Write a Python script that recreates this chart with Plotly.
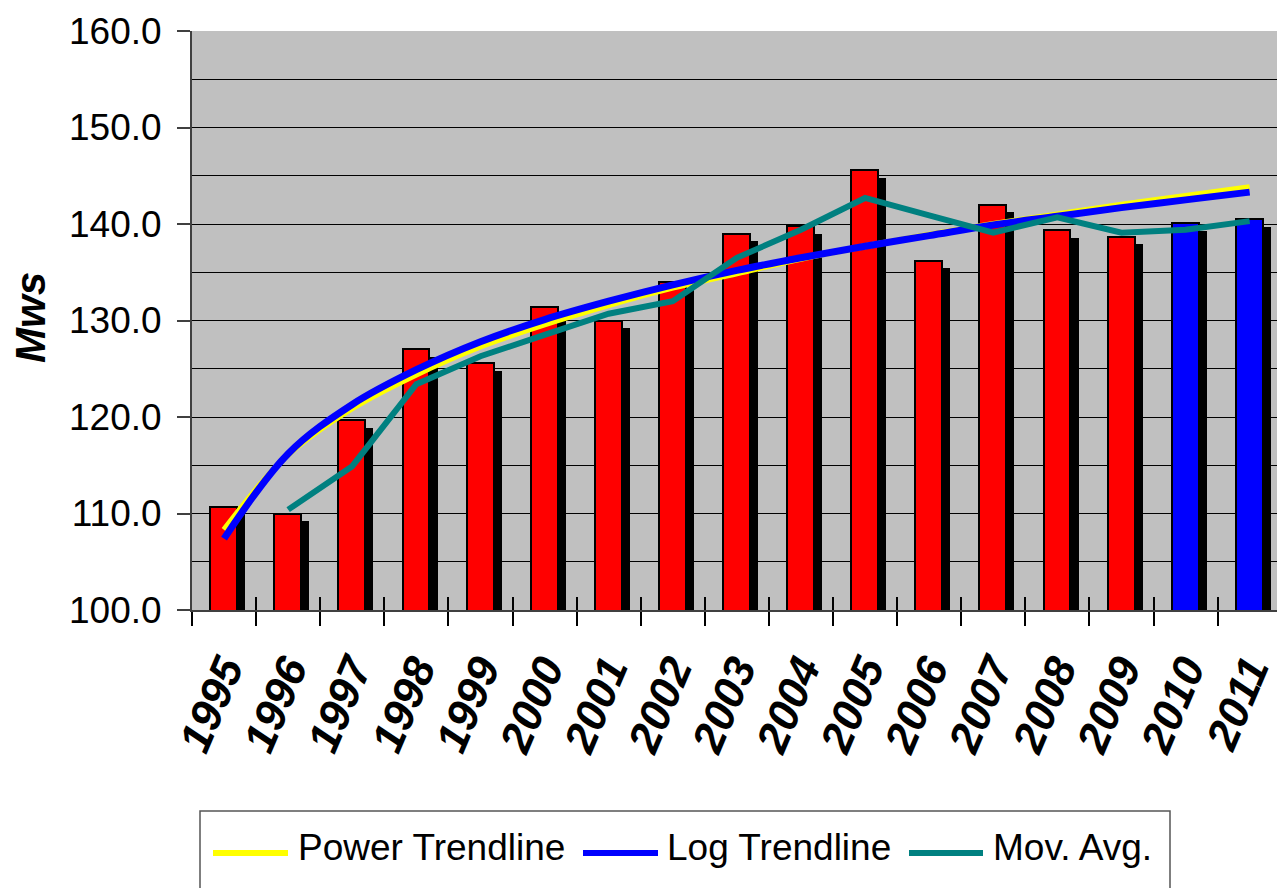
import plotly.graph_objects as go

# Annual peak demand (MW) with fitted trendlines
years = ["1995", "1996", "1997", "1998", "1999", "2000", "2001", "2002", "2003",
         "2004", "2005", "2006", "2007", "2008", "2009", "2010", "2011"]
mws = [110.7, 110.0, 119.7, 127.0, 125.6, 131.4, 130.0, 134.0, 139.0,
       139.8, 145.6, 136.2, 142.0, 139.4, 138.7, 140.1, 140.5]
forecast_years = ["2010", "2011"]

power_trend = [108.3, 116.1, 120.9, 124.4, 127.3, 129.6, 131.6, 133.4, 134.9,
               136.4, 137.7, 138.9, 140.0, 141.0, 142.0, 142.9, 143.8]
log_trend = [107.4, 116.2, 121.3, 124.9, 127.8, 130.1, 132.0, 133.7, 135.2,
             136.5, 137.7, 138.8, 139.9, 140.8, 141.7, 142.5, 143.3]
mov_avg = [None, 110.4, 114.9, 123.4, 126.3, 128.5, 130.7, 132.0, 136.5,
           139.4, 142.7, 140.9, 139.1, 140.7, 139.1, 139.4, 140.3]

legend_labels = ["Power Trendline", "Log Trendline", "Mov. Avg."]
y_ticks = [100, 110, 120, 130, 140, 150, 160]

RED, BLUE, YELLOW, TEAL, GREY = "#FF0000", "#0000FF", "#FFFF00", "#008080", "#C0C0C0"
SANS = "Liberation Sans, Arial, sans-serif"

W, H = 1277, 888
L, T, B = 192, 31, 278
PW = W - L
PH = H - T - B


def px_x(p):
    return (p - L) / PW


def px_y(p):
    return (H - B - p) / PH


bar_colors = [BLUE if y in forecast_years else RED for y in years]

fig = go.Figure()

# drop shadow behind each column
fig.add_trace(go.Bar(
    x=years, y=mws, base=-0.8, width=0.42, offset=-0.09,
    marker=dict(color="black", line=dict(width=0)),
    showlegend=False, hoverinfo="skip",
))
fig.add_trace(go.Bar(
    x=years, y=mws, width=0.42, offset=-0.215,
    marker=dict(color=bar_colors, line=dict(color="black", width=2)),
    showlegend=False, name="Mws",
))
fig.add_trace(go.Scatter(
    x=years, y=power_trend, mode="lines", line=dict(color=YELLOW, width=6, shape="spline"),
    name=legend_labels[0], showlegend=False,
))
fig.add_trace(go.Scatter(
    x=years, y=log_trend, mode="lines", line=dict(color=BLUE, width=7, shape="spline"),
    name=legend_labels[1], showlegend=False,
))
fig.add_trace(go.Scatter(
    x=years, y=mov_avg, mode="lines", line=dict(color=TEAL, width=6),
    name=legend_labels[2], showlegend=False,
))
# carrier for the inner half of the category tick marks
fig.add_trace(go.Scatter(
    x=years, y=[None] * len(years), xaxis="x2", mode="lines",
    showlegend=False, hoverinfo="skip",
))

x_range = [-0.5, -0.5 + PW / 64.1]

fig.update_layout(
    width=W, height=H,
    margin=dict(l=L, r=0, t=T, b=B, pad=0),
    paper_bgcolor="white",
    plot_bgcolor=GREY,
    barmode="overlay",
    bargap=0,
    xaxis=dict(
        type="category", categoryarray=years, range=x_range,
        tickson="boundaries", ticks="outside", ticklen=14, tickwidth=1.5, tickcolor="black",
        tickangle=-67, ticklabelstandoff=14,
        tickfont=dict(family=SANS, size=44, color="black", weight="bold", style="italic"),
        showline=True, linecolor="#404040", linewidth=2,
        showgrid=False, zeroline=False,
    ),
    xaxis2=dict(
        type="category", categoryarray=years, range=x_range,
        overlaying="x", anchor="y", side="bottom",
        tickson="boundaries", ticks="inside", ticklen=13, tickwidth=1.5, tickcolor="black",
        showticklabels=False, showline=False, showgrid=False, zeroline=False,
    ),
    yaxis=dict(
        range=[100, 160], tickvals=y_ticks, tickformat=".1f",
        ticks="outside", ticklen=13, tickwidth=1.5, tickcolor="#404040",
        ticklabelstandoff=8,
        tickfont=dict(family=SANS, size=37, color="black"),
        showline=True, linecolor="#404040", linewidth=2,
        showgrid=True, gridcolor="black", gridwidth=1,
        minor=dict(dtick=5, showgrid=True, gridcolor="black", gridwidth=1),
        zeroline=False,
    ),
)

# y-axis title
fig.add_annotation(
    text="Mws", xref="paper", yref="paper", x=px_x(30), y=px_y(318),
    xanchor="center", yanchor="middle", textangle=-90, showarrow=False,
    font=dict(family=SANS, size=42, color="black", weight="bold", style="italic"),
)

# legend box with line samples
fig.add_shape(type="rect", xref="paper", yref="paper",
              x0=px_x(200), x1=px_x(1170), y0=px_y(811), y1=px_y(900),
              line=dict(color="#555555", width=1.5), fillcolor="white", layer="above")
legend_items = [
    (legend_labels[0], YELLOW, 213, 288, 296),
    (legend_labels[1], BLUE, 583, 658, 665),
    (legend_labels[2], TEAL, 909, 983, 991),
]
for label, color, lx0, lx1, tx in legend_items:
    fig.add_shape(type="line", xref="paper", yref="paper",
                  x0=px_x(lx0), x1=px_x(lx1), y0=px_y(853), y1=px_y(853),
                  line=dict(color=color, width=6), layer="above")
    fig.add_annotation(
        text=label, xref="paper", yref="paper", x=px_x(tx), y=px_y(847),
        xanchor="left", yanchor="middle", showarrow=False,
        font=dict(family=SANS, size=37, color="black"),
    )

fig.write_html("out.html")
